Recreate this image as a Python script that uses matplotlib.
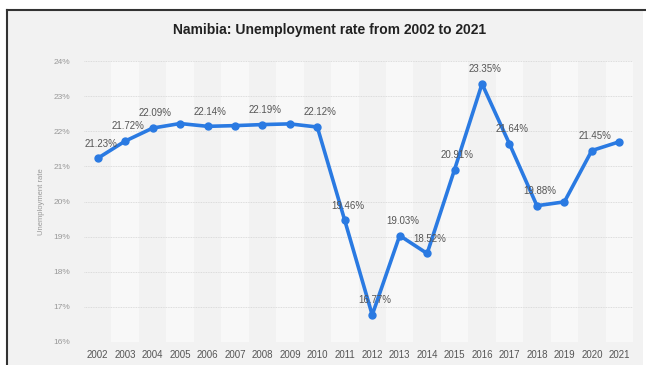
import matplotlib.pyplot as plt
from matplotlib.patches import Rectangle
from matplotlib.lines import Line2D
from matplotlib.ticker import FuncFormatter

years = list(range(2002, 2022))
rates = [21.23, 21.72, 22.09, 22.22, 22.14, 22.16, 22.19, 22.21, 22.12, 19.46,
         16.77, 19.03, 18.52, 20.91, 23.35, 21.64, 19.88, 19.99, 21.45, 21.70]
labelled = [2002, 2003, 2004, 2006, 2008, 2010, 2011, 2012, 2013, 2014,
            2015, 2016, 2017, 2018, 2020]
y_ticks = [16, 17, 18, 19, 20, 21, 22, 23, 24]

W, H = 646, 365
BG = "#f2f2f2"
BAND = "#f8f8f8"
BLUE = "#2a7ae2"

plt.rcParams.update({"font.family": ["Liberation Sans", "DejaVu Sans"]})

fig = plt.figure(figsize=(W / 100, H / 100), dpi=100)
fig.patch.set_facecolor("white")

# framed panel
fig.add_artist(Rectangle((7 / W, 0), (643 - 7) / W, (H - 10) / H,
                         transform=fig.transFigure, facecolor=BG, edgecolor="none", zorder=0))
fig.add_artist(Line2D([7 / W, 7 / W], [0, (H - 10) / H], transform=fig.transFigure,
                      color="#333333", lw=1.5))
fig.add_artist(Line2D([7 / W, 1], [(H - 10) / H, (H - 10) / H], transform=fig.transFigure,
                      color="#333333", lw=1.5))

ax = fig.add_axes([84 / W, (H - 342) / H, (633 - 84) / W, (342 - 61) / H])
ax.set_facecolor("none")
n = len(years)
ax.set_xlim(-0.5, n - 0.5)
ax.set_ylim(16, 24)

for i in range(1, n, 2):
    ax.axvspan(i - 0.5, i + 0.5, color=BAND, lw=0, zorder=0)

for t in y_ticks:
    ax.axhline(t, color="#d4d4d4", lw=0.6, ls=(0, (1, 1)), zorder=1)

xs = list(range(n))
ax.plot(xs, rates, color=BLUE, lw=2.6, marker="o", ms=5, zorder=3,
        solid_joinstyle="round")

for x, yr, v in zip(xs, years, rates):
    if yr in labelled:
        ax.annotate(f"{v:.2f}%", (x, v), xytext=(2, 7), textcoords="offset points",
                    ha="center", va="bottom", fontsize=7, color="#555555", zorder=4)

ax.set_xticks(xs)
ax.set_xticklabels([str(y) for y in years])
ax.set_yticks(y_ticks)
ax.yaxis.set_major_formatter(FuncFormatter(lambda v, p: f"{v:.0f}%"))
ax.tick_params(axis="x", length=0, labelsize=7, colors="#555555", pad=6)
ax.tick_params(axis="y", length=0, labelsize=6, colors="#999999", pad=10)
for s in ax.spines.values():
    s.set_visible(False)

ax.set_ylabel("Unemployment rate", fontsize=5.5, color="#999999", labelpad=6)

fig.text(330 / W, (H - 30) / H, "Namibia: Unemployment rate from 2002 to 2021",
         ha="center", va="center", fontsize=10, fontweight="bold", color="#222222")

fig.savefig("out.png", dpi=100)
